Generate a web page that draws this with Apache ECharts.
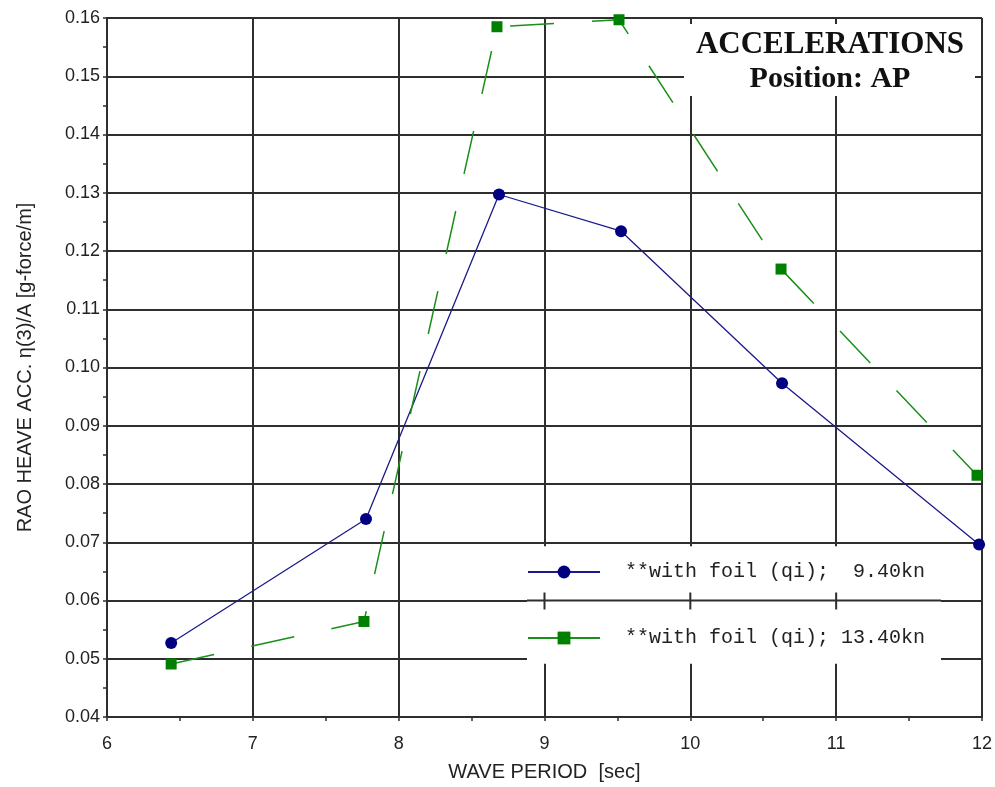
<!DOCTYPE html>
<html>
<head>
<meta charset="utf-8">
<script src="https://cdn.jsdelivr.net/npm/echarts@6/dist/echarts.min.js"></script>
<style>
  html, body { margin: 0; padding: 0; background: #ffffff; }
  #chart { width: 995px; height: 787px; }
</style>
</head>
<body>
<div id="chart"></div>
<script>
// Wave period [sec] and heave acceleration RAO [g-force/m] for the two speeds
const period940 = [6.44, 7.776, 8.688, 9.525, 10.629, 11.98];
const rao940 = [0.0527, 0.0740, 0.1297, 0.1234, 0.0973, 0.0696];
const period1340 = [6.44, 7.762, 8.674, 9.511, 10.622, 11.966];
const rao1340 = [0.0491, 0.0564, 0.1585, 0.1597, 0.1169, 0.0815];

const seriesNames = ['**with foil (qi);  9.40kn', '**with foil (qi); 13.40kn'];
const xRange = [6, 12];
const yRange = [0.04, 0.16];
const titleLines = ['ACCELERATIONS', 'Position: AP'];

const zip = (xs, ys) => xs.map((x, i) => [x, ys[i]]);

const gridColor = '#2e2e2e';
const labelFont = { fontFamily: 'Liberation Sans, Arial, sans-serif', fontSize: 18, color: '#222' };

const chart = echarts.init(document.getElementById('chart'), null, { renderer: 'canvas' });

chart.setOption({
  animation: false,
  backgroundColor: '#ffffff',
  grid: { left: 107, right: 13, top: 18, bottom: 67 },
  xAxis: {
    type: 'value',
    min: xRange[0], max: xRange[1], interval: 1,
    name: 'WAVE PERIOD  [sec]',
    nameLocation: 'middle',
    nameGap: 45,
    nameTextStyle: { fontFamily: 'Liberation Sans, Arial, sans-serif', fontSize: 20, color: '#222' },
    axisLine: { show: true, onZero: false, lineStyle: { color: gridColor, width: 2 } },
    axisTick: { show: true, length: 4, lineStyle: { color: gridColor, width: 1.5 } },
    minorTick: { show: true, splitNumber: 2, length: 4, lineStyle: { color: gridColor, width: 1.5 } },
    axisLabel: Object.assign({ margin: 18 }, labelFont),
    splitLine: { show: true, lineStyle: { color: gridColor, width: 2 } }
  },
  yAxis: {
    type: 'value',
    min: yRange[0], max: yRange[1], interval: 0.01,
    name: 'RAO HEAVE ACC. η(3)/A [g-force/m]',
    nameLocation: 'middle',
    nameGap: 72,
    nameTextStyle: { fontFamily: 'Liberation Sans, Arial, sans-serif', fontSize: 20, color: '#222' },
    axisLine: { show: true, onZero: false, lineStyle: { color: gridColor, width: 2 } },
    axisTick: { show: true, length: 4, lineStyle: { color: gridColor, width: 1.5 } },
    minorTick: { show: true, splitNumber: 2, length: 4, lineStyle: { color: gridColor, width: 1.5 } },
    axisLabel: Object.assign({ margin: 7, formatter: v => v.toFixed(2) }, labelFont),
    splitLine: { show: true, lineStyle: { color: gridColor, width: 2 } }
  },
  legend: {
    orient: 'vertical',
    left: 527,
    top: 562,
    padding: 0,
    itemGap: 46,
    itemWidth: 72,
    itemHeight: 16,
    lineStyle: { type: 'solid', width: 2 },
    textStyle: {
      fontFamily: 'Liberation Mono, DejaVu Sans Mono, monospace',
      fontSize: 20,
      color: '#222',
      padding: [0, 0, 0, 20]
    },
    data: seriesNames
  },
  series: [
    {
      name: seriesNames[0],
      type: 'line',
      data: zip(period940, rao940),
      symbol: 'circle',
      symbolSize: 12,
      itemStyle: { color: '#000080' },
      lineStyle: { color: '#1a1a8a', width: 1.3 },
      z: 3
    },
    {
      name: seriesNames[1],
      type: 'line',
      data: zip(period1340, rao1340),
      symbol: 'rect',
      symbolSize: 11,
      itemStyle: { color: '#008000' },
      lineStyle: { color: '#1a8f1a', width: 1.5, type: [44, 38] },
      z: 3
    }
  ]
});

// White panels for the title block and the legend, placed from axis coordinates
function decorate() {
  const px = (x, y) => chart.convertToPixel({ gridIndex: 0 }, [x, y]);
  const graphics = [];

  // title panel
  const tTopLeft = [684, px(0, 0.16)[1] + 6];
  const tBottomRight = [975, 96];
  graphics.push({
    type: 'rect', z: 1,
    shape: { x: tTopLeft[0], y: tTopLeft[1], width: tBottomRight[0] - tTopLeft[0], height: tBottomRight[1] - tTopLeft[1] },
    style: { fill: '#ffffff' }
  });
  graphics.push({
    type: 'text', z: 5,
    style: { text: titleLines[0], x: 830, y: 45, textAlign: 'center', textVerticalAlign: 'middle',
      font: 'bold 31px "Liberation Serif", "Times New Roman", serif', fill: '#111' }
  });
  graphics.push({
    type: 'text', z: 5,
    style: { text: titleLines[1], x: 830, y: 79, textAlign: 'center', textVerticalAlign: 'middle',
      font: 'bold 30px "Liberation Serif", "Times New Roman", serif', fill: '#111' }
  });

  // legend panel
  const lx0 = 527, lx1 = 941;
  const ly0 = px(0, 0.07)[1] + 4;
  const ly1 = px(0, 0.05)[1] + 5;
  graphics.push({
    type: 'rect', z: 1,
    shape: { x: lx0, y: ly0, width: lx1 - lx0, height: ly1 - ly0 },
    style: { fill: '#ffffff' }
  });
  // grid line at 0.06 runs through the legend panel
  const y06 = px(0, 0.06)[1];
  graphics.push({
    type: 'line', z: 1,
    shape: { x1: lx0, y1: y06, x2: lx1, y2: y06 },
    style: { stroke: gridColor, lineWidth: 2 }
  });
  // short vertical marks where the grid crosses inside the panel
  [9, 10, 11].forEach(xv => {
    const x = px(xv, 0)[0];
    graphics.push({
      type: 'line', z: 1,
      shape: { x1: x, y1: y06 - 8, x2: x, y2: y06 + 9 },
      style: { stroke: gridColor, lineWidth: 2 }
    });
  });

  chart.setOption({ graphic: graphics });
}
decorate();
</script>
</body>
</html>
